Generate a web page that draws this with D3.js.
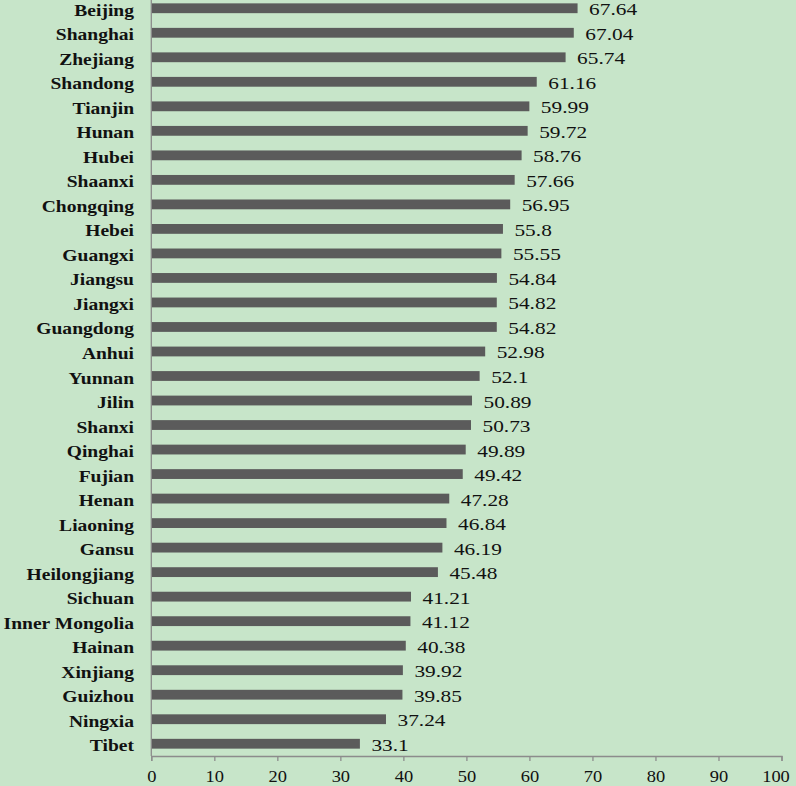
<!DOCTYPE html>
<html>
<head>
<meta charset="utf-8">
<script src="https://cdn.jsdelivr.net/npm/d3@7"></script>
<style>
  html, body { margin: 0; padding: 0; background: #c7e5c9; overflow: hidden; }
  svg { display: block; }
</style>
</head>
<body>
<svg id="chart" width="796" height="786"></svg>
<script>
const provinces = ["Beijing","Shanghai","Zhejiang","Shandong","Tianjin","Hunan","Hubei","Shaanxi","Chongqing","Hebei","Guangxi","Jiangsu","Jiangxi","Guangdong","Anhui","Yunnan","Jilin","Shanxi","Qinghai","Fujian","Henan","Liaoning","Gansu","Heilongjiang","Sichuan","Inner Mongolia","Hainan","Xinjiang","Guizhou","Ningxia","Tibet"];
const values = [67.64,67.04,65.74,61.16,59.99,59.72,58.76,57.66,56.95,55.8,55.55,54.84,54.82,54.82,52.98,52.1,50.89,50.73,49.89,49.42,47.28,46.84,46.19,45.48,41.21,41.12,40.38,39.92,39.85,37.24,33.1];
const ticks = [0,10,20,30,40,50,60,70,80,90,100];

const svg = d3.select("#chart");
const W = 796, H = 786;
const FONT = "'Liberation Serif', 'Times New Roman', serif";
svg.append("rect").attr("width", W).attr("height", H).attr("fill", "#c7e5c9");

const x = d3.scaleLinear().domain([0, 100]).range([151.3, 781.5]);
const y = d3.scaleBand().domain(provinces).range([-4.0, 756]).paddingInner(0.6).paddingOuter(0.3);
const axisY = 756;

const data = provinces.map((p, i) => ({p, v: values[i]}));

// bars
svg.append("g").selectAll("rect").data(data).join("rect")
  .attr("x", x(0))
  .attr("y", d => y(d.p))
  .attr("width", d => x(d.v) - x(0))
  .attr("height", y.bandwidth())
  .attr("fill", "#5b5b5b");

// x axis
const xAxis = d3.axisBottom(x).tickValues(ticks).tickSize(5).tickFormat(d3.format("d"));
const gx = svg.append("g").attr("transform", `translate(0,${axisY})`).call(xAxis);
gx.select(".domain").attr("stroke", "#8c8c8c").attr("stroke-width", 1.3);
gx.selectAll(".tick line").attr("stroke", "#8c8c8c").attr("stroke-width", 1.3);
gx.selectAll(".tick text").remove();
gx.selectAll(".tick").append("g")
  .attr("transform", d => `translate(${d === 100 ? -6 : 0},25.5) scale(1.12,1)`)
  .append("text")
  .attr("text-anchor", "middle")
  .attr("font-family", FONT)
  .attr("font-size", 16.5)
  .attr("fill", "#111")
  .text(d => d);

// y axis line
svg.append("line")
  .attr("x1", x(0)).attr("x2", x(0))
  .attr("y1", 0).attr("y2", axisY)
  .attr("stroke", "#8c8c8c").attr("stroke-width", 1.3);

// category labels
svg.append("g").selectAll("g").data(data).join("g")
  .attr("transform", d => `translate(134,${y(d.p) + y.bandwidth() / 2 + 7.5}) scale(1.15,1)`)
  .append("text")
  .attr("text-anchor", "end")
  .attr("font-family", FONT)
  .attr("font-weight", "bold")
  .attr("font-size", 17)
  .attr("fill", "#111")
  .text(d => d.p);

// value labels
svg.append("g").selectAll("g").data(data).join("g")
  .attr("transform", d => `translate(${x(d.v) + 11.5},${y(d.p) + y.bandwidth() / 2 + 7}) scale(1.22,1)`)
  .append("text")
  .attr("text-anchor", "start")
  .attr("font-family", FONT)
  .attr("font-size", 17.5)
  .attr("fill", "#111")
  .text(d => String(d.v));
</script>
</body>
</html>
